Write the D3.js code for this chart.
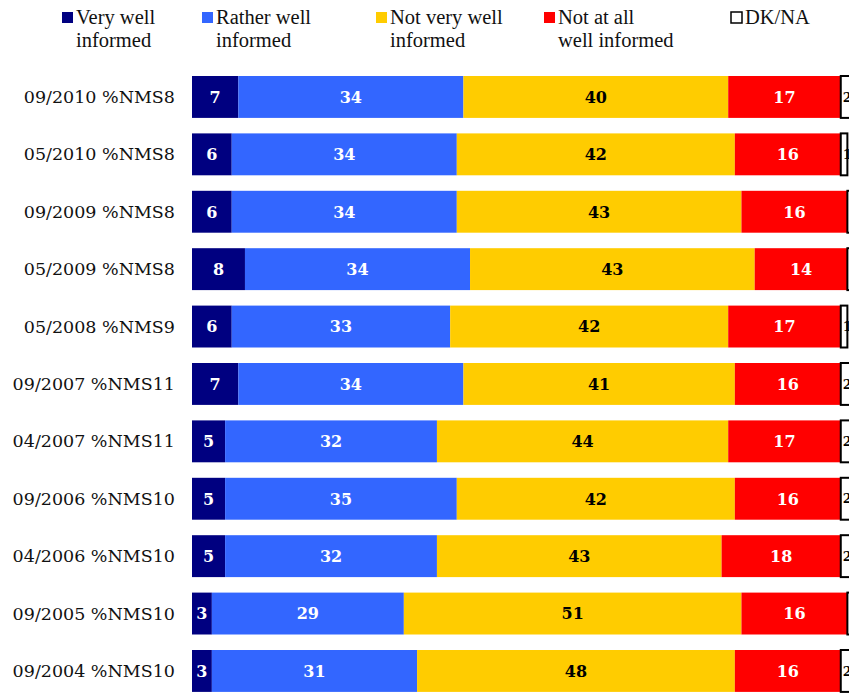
<!DOCTYPE html>
<html><head><meta charset="utf-8">
<script src="https://cdn.jsdelivr.net/npm/d3@7"></script>
<style>body{margin:0;background:#fff;overflow:hidden}</style>
</head><body>
<svg id="c" width="849" height="693"></svg>
<script>
const categories = ["09/2010 %NMS8","05/2010 %NMS8","09/2009 %NMS8","05/2009 %NMS8","05/2008 %NMS9","09/2007 %NMS11","04/2007 %NMS11","09/2006 %NMS10","04/2006 %NMS10","09/2005 %NMS10","09/2004 %NMS10"];
const seriesNames = ["Very well informed","Rather well informed","Not very well informed","Not at all well informed","DK/NA"];
const legendLines = [["Very well","informed"],["Rather well","informed"],["Not very well","informed"],["Not at all","well informed"],["DK/NA"]];
const veryWell = [7,6,6,8,6,7,5,5,5,3,3];
const ratherWell = [34,34,34,34,33,34,32,35,32,29,31];
const notVeryWell = [40,42,43,43,42,41,44,42,43,51,48];
const notAtAll = [17,16,16,14,17,16,17,16,18,16,16];
const dkna = [2,1,1,1,1,2,2,2,2,1,2];
const colors = ["#000080","#3366ff","#ffcc00","#ff0000","#ffffff"];
const textColors = ["#fff","#fff","#000","#fff","#000"];

const series = [veryWell, ratherWell, notVeryWell, notAtAll, dkna];
const rows = categories.map((c,i)=>{const o={cat:c}; seriesNames.forEach((s,j)=>o[s]=series[j][i]); return o;});
const stacked = d3.stack().keys(seriesNames)(rows);

const svg = d3.select("#c");
const x = d3.scaleLinear().domain([0,100]).range([192,854]);
const y = d3.scaleBand().domain(categories).range([68.25,699.65]).paddingInner(0.27).paddingOuter(0.135);

const serif = "Georgia, 'DejaVu Serif', serif";

// category labels
svg.append("g").selectAll("text").data(categories).join("text")
  .attr("x",175).attr("y",d=>y(d)+y.bandwidth()/2).attr("dy","0.35em")
  .attr("text-anchor","end").attr("font-family",serif).attr("font-size",17.5).attr("fill","#111")
  .text(d=>d);

const g = svg.append("g");
stacked.forEach((s,si)=>{
  const sg = g.append("g");
  sg.selectAll("rect").data(s).join("rect")
    .attr("x",d=>x(d[0])).attr("width",d=>x(d[1])-x(d[0]))
    .attr("y",d=>y(d.data.cat)).attr("height",y.bandwidth())
    .attr("fill",colors[si])
    .attr("stroke",si===4?"#000":"none").attr("stroke-width",si===4?2:0);
  sg.selectAll("text").data(s).join("text")
    .attr("x",d=> si===4 ? x(d[0])+2 : (x(d[0])+x(d[1]))/2)
    .attr("y",d=>y(d.data.cat)+y.bandwidth()/2).attr("dy","0.36em")
    .attr("text-anchor",si===4?"start":"middle")
    .attr("font-family",serif).attr("font-weight","bold").attr("font-size",si===4?13:16)
    .attr("fill",textColors[si])
    .text(d=>d[1]-d[0]);
});

// legend
const legX = [62,202,376,544,731];
const leg = svg.append("g");
legendLines.forEach((lines,i)=>{
  leg.append("rect").attr("x",legX[i]).attr("y",12).attr("width",11).attr("height",11)
    .attr("fill",colors[i]).attr("stroke",i===4?"#000":"none").attr("stroke-width",1.5);
  const t = leg.append("text").attr("x",legX[i]+14).attr("y",24)
    .attr("font-family","'Liberation Serif', serif").attr("font-size",20.5).attr("fill","#111");
  lines.forEach((l,k)=>t.append("tspan").attr("x",legX[i]+14).attr("dy",k?23:0).text(l));
});
</script>
</body></html>
